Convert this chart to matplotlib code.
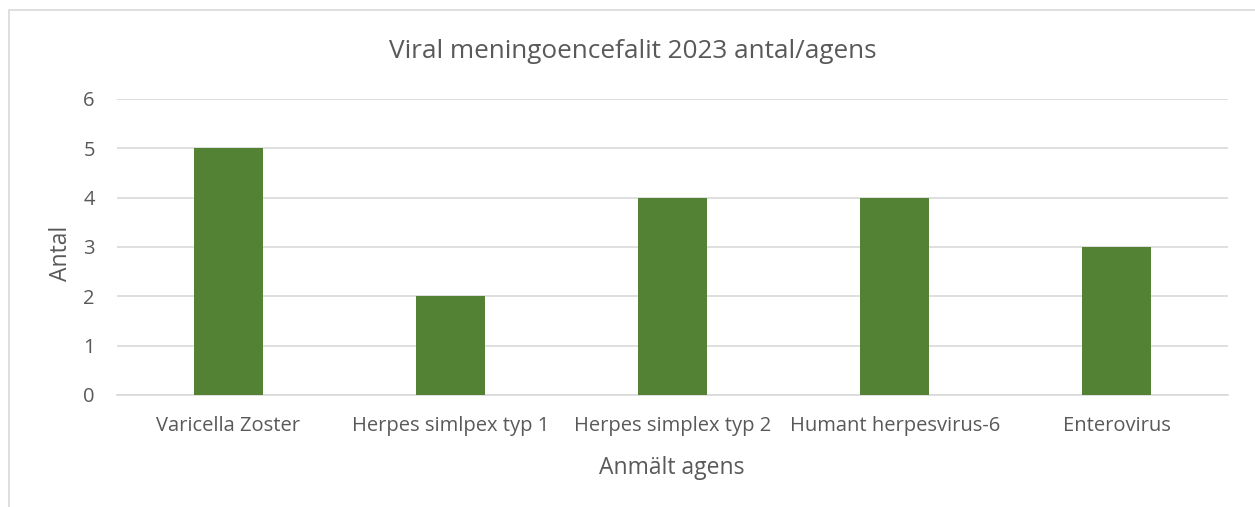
import matplotlib
matplotlib.use("Agg")
import matplotlib.pyplot as plt
from matplotlib.patches import Rectangle

# data
agens = ["Varicella Zoster", "Herpes simlpex typ 1", "Herpes simplex typ 2",
         "Humant herpesvirus-6", "Enterovirus"]
antal = [5, 2, 4, 4, 3]
y_ticks = [0, 1, 2, 3, 4, 5, 6]

text_color = "#595959"
grid_color = "#D9D9D9"
bar_color = "#548235"

plt.rcParams["font.family"] = ["Open Sans", "DejaVu Sans"]

fig = plt.figure(figsize=(12.55, 5.07), dpi=100)
ax = fig.add_axes([117 / 1255, 1 - 395 / 507, (1228 - 117) / 1255, (395 - 99) / 507])

# chart border (left and top visible)
fig.patches.append(Rectangle((9 / 1255, -0.1), 1.2, (507 - 10) / 507 + 0.1,
                             transform=fig.transFigure, fill=False,
                             edgecolor=grid_color, linewidth=1.2))

x = range(len(agens))
ax.bar(x, antal, width=0.31, color=bar_color, zorder=3)

ax.set_xlim(-0.5, len(agens) - 0.5)
ax.set_ylim(0, 6)
ax.set_yticks(y_ticks)
ax.set_xticks(list(x))
ax.set_xticklabels(agens)

ax.yaxis.grid(True, color=grid_color, linewidth=1.2, zorder=0)
for s in ["top", "right", "left"]:
    ax.spines[s].set_visible(False)
ax.spines["bottom"].set_color(grid_color)
ax.spines["bottom"].set_linewidth(1.2)
ax.tick_params(axis="both", length=0, colors=text_color, labelsize=14.5)
ax.tick_params(axis="y", pad=16)
ax.tick_params(axis="x", pad=15)

ax.set_ylabel("Antal", fontsize=16.5, color=text_color)
ax.yaxis.set_label_coords(61 / 1255, 0.5, transform=fig.transFigure)
ax.set_xlabel("Anmält agens", fontsize=16.5, color=text_color)
ax.xaxis.set_label_coords(672 / 1255, 1 - 468 / 507, transform=fig.transFigure)
ax.xaxis.label.set_va("center")
ax.yaxis.label.set_va("center")

fig.text(633 / 1255, 1 - 51 / 507, "Viral meningoencefalit 2023 antal/agens",
         ha="center", va="center", fontsize=18.8, color=text_color)

fig.savefig("out.png", dpi=100)
